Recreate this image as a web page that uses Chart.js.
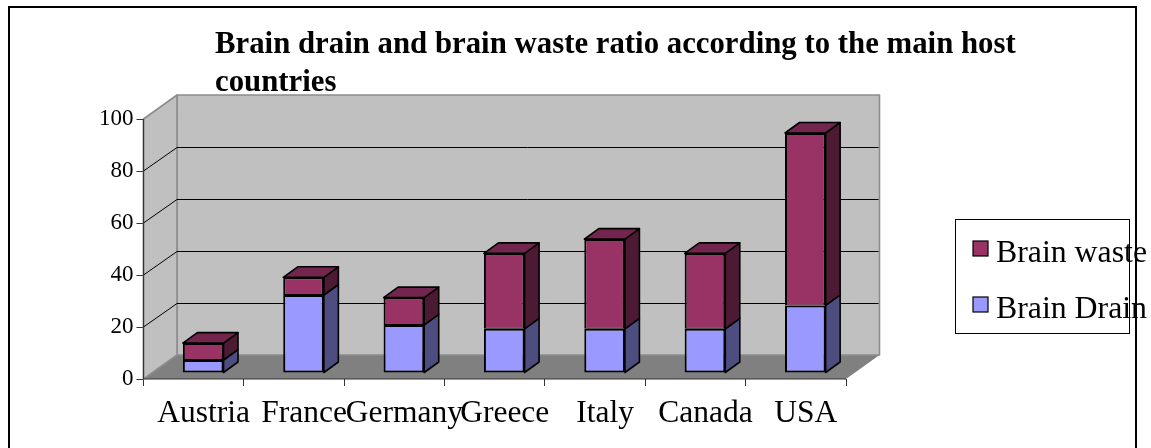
<!DOCTYPE html>
<html>
<head>
<meta charset="utf-8">
<style>
html, body { margin: 0; padding: 0; background: #fff; }
#wrap { width: 1151px; height: 448px; }
</style>
<script src="https://cdn.jsdelivr.net/npm/chart.js@4"></script>
</head>
<body>
<div id="wrap"><canvas id="chart" width="1151" height="448"></canvas></div>
<script>
const categories = ["Austria", "France", "Germany", "Greece", "Italy", "Canada", "USA"];
const brainDrain = [5, 30, 18.5, 17, 17, 17, 26];
const brainWaste = [6.5, 6.8, 10.5, 29, 34.5, 29, 66.3];
const titleLines = ["Brain drain and brain waste ratio according to the main host", "countries"];
const FONT = "'Liberation Serif', 'Times New Roman', serif";

// depth of the walls and of the bars
const wallDx = 33.5, wallDy = 24;
const barDx = 14.5, barDy = 10.5;
const shiftX = 9.5, shiftY = -6;

function poly(ctx, pts, fill, stroke, lw) {
    ctx.beginPath();
    pts.forEach((p, i) => i ? ctx.lineTo(p[0], p[1]) : ctx.moveTo(p[0], p[1]));
    ctx.closePath();
    if (fill) { ctx.fillStyle = fill; ctx.fill(); }
    if (stroke) { ctx.strokeStyle = stroke; ctx.lineWidth = lw; ctx.lineJoin = "round"; ctx.stroke(); }
}

const walls = {
    id: "walls",
    beforeDatasetsDraw(chart) {
        const ctx = chart.ctx, a = chart.chartArea, y = chart.scales.y;
        ctx.save();
        poly(ctx, [[a.left, a.bottom], [a.left + wallDx, a.bottom - wallDy], [a.right + wallDx, a.bottom - wallDy], [a.right, a.bottom]], "#808080");
        poly(ctx, [[a.left + wallDx, a.top - wallDy], [a.right + wallDx, a.top - wallDy], [a.right + wallDx, a.bottom - wallDy], [a.left + wallDx, a.bottom - wallDy]], "#c0c0c0", "#8c8c8c", 1.6);
        poly(ctx, [[a.left, a.top], [a.left + wallDx, a.top - wallDy], [a.left + wallDx, a.bottom - wallDy], [a.left, a.bottom]], "#c0c0c0", "#8c8c8c", 1.6);
        y.ticks.forEach(t => {
            if (t.value === 0 || t.value === 100) return;
            const py = y.getPixelForValue(t.value);
            const by = Math.round(py - wallDy) + 0.5;
            ctx.beginPath();
            ctx.moveTo(a.left, py);
            ctx.lineTo(a.left + wallDx, by);
            ctx.lineTo(a.right + wallDx - 1, by);
            ctx.strokeStyle = "#000";
            ctx.lineWidth = 1;
            ctx.stroke();
        });
        ctx.beginPath();
        ctx.moveTo(a.left, a.top);
        ctx.lineTo(a.left, a.bottom);
        ctx.lineTo(a.right, a.bottom);
        ctx.strokeStyle = "#333";
        ctx.lineWidth = 1.2;
        ctx.stroke();
        ctx.restore();
        // bars stand a little behind the front edge
        ctx.save();
        ctx.translate(shiftX, shiftY);
    },
    afterDatasetsDraw(chart) {
        const ctx = chart.ctx;
        const sides = ["#4d4d80", "#4d1a33"];
        chart.data.datasets.forEach((ds, d) => {
            chart.getDatasetMeta(d).data.forEach(bar => {
                const p = bar.getProps(["x", "y", "base", "width"], true);
                const l = p.x - p.width / 2, r = p.x + p.width / 2;
                poly(ctx, [[r, p.y], [r + barDx, p.y - barDy], [r + barDx, p.base - barDy], [r, p.base]], sides[d], "#000", 1.6);
                if (d === chart.data.datasets.length - 1) {
                    poly(ctx, [[l, p.y], [l + barDx, p.y - barDy], [r + barDx, p.y - barDy], [r, p.y]], "#73264d", "#000", 1.6);
                }
            });
        });
        ctx.restore();
    },
    afterDraw(chart) {
        const ctx = chart.ctx;
        ctx.save();
        // title
        ctx.fillStyle = "#000";
        ctx.font = "bold 30.8px " + FONT;
        ctx.textBaseline = "alphabetic";
        ctx.textAlign = "left";
        ctx.fillText(titleLines[0], 215, 53);
        ctx.fillText(titleLines[1], 215, 91);
        // legend, top entry is the top of the stack
        ctx.strokeStyle = "#000";
        ctx.lineWidth = 1;
        ctx.strokeRect(955.5, 219.5, 174, 114);
        ctx.font = "31.8px " + FONT;
        [1, 0].forEach((d, i) => {
            const ds = chart.data.datasets[d], top = 241 + i * 56;
            ctx.fillStyle = ds.backgroundColor;
            ctx.fillRect(973, top, 15, 15);
            ctx.strokeStyle = "#000";
            ctx.lineWidth = 1.2;
            ctx.strokeRect(973, top, 15, 15);
            ctx.fillStyle = "#000";
            ctx.fillText(ds.label, 996, top + 21);
        });
        // frame around the chart, open at the bottom of the picture
        ctx.strokeStyle = "#000";
        ctx.lineWidth = 2;
        ctx.beginPath();
        ctx.moveTo(9, 448);
        ctx.lineTo(9, 7);
        ctx.lineTo(1136, 7);
        ctx.lineTo(1136, 448);
        ctx.stroke();
        ctx.restore();
    }
};

new Chart(document.getElementById("chart"), {
    type: "bar",
    data: {
        labels: categories,
        datasets: [
            { label: "Brain Drain", data: brainDrain, backgroundColor: "#9999ff", borderColor: "#000", borderWidth: { top: 2, bottom: 2, left: 2, right: 2 }, borderSkipped: false, clip: false, categoryPercentage: 1, barPercentage: 0.405 },
            { label: "Brain waste", data: brainWaste, backgroundColor: "#993366", borderColor: "#000", borderWidth: { top: 2, bottom: 1, left: 2, right: 2 }, borderSkipped: false, clip: false, categoryPercentage: 1, barPercentage: 0.405 }
        ]
    },
    options: {
        responsive: false,
        animation: false,
        layout: { padding: { left: 83.5, right: 305, top: 119, bottom: 9 } },
        plugins: { legend: { display: false }, title: { display: false }, tooltip: { enabled: false } },
        scales: {
            x: {
                stacked: true,
                afterFit: s => { s.height = 60; },
                border: { display: false },
                grid: { drawOnChartArea: false, drawTicks: true, tickLength: 7, color: "#333", offset: true },
                ticks: { color: "#000", font: { family: FONT, size: 31.5 }, padding: 9, maxRotation: 0, minRotation: 0, autoSkip: false, labelOffset: 10 }
            },
            y: {
                stacked: true,
                min: 0,
                max: 100,
                afterFit: s => { s.width = 60; },
                border: { display: false },
                grid: { drawOnChartArea: false, drawTicks: true, tickLength: 7, color: "#333" },
                ticks: { color: "#000", font: { family: FONT, size: 23 }, stepSize: 20, padding: 3 }
            }
        }
    },
    plugins: [walls]
});
</script>
</body>
</html>
